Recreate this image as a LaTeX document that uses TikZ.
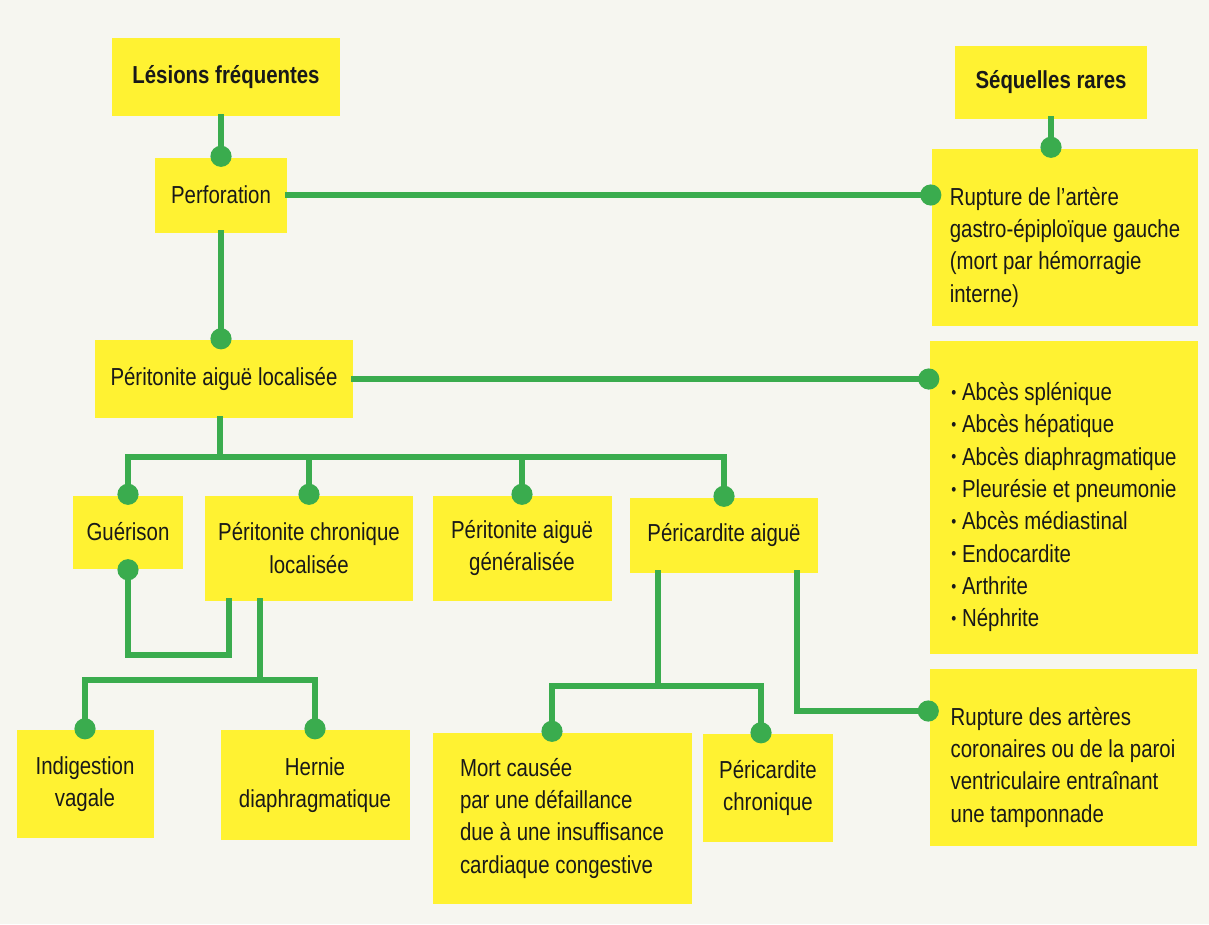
\documentclass[tikz,border=0pt]{standalone}
\usepackage{fontspec}
\setmainfont{Liberation Sans}[FakeStretch=0.83]
\usepackage{graphicx}
\usepackage{xcolor}
\usetikzlibrary{arrows.meta}

\definecolor{boxyellow}{RGB}{255,242,50}
\definecolor{linkgreen}{RGB}{58,172,78}
\definecolor{paper}{RGB}{246,246,240}
\newcommand{\puce}{\raisebox{0.2ex}{\scalebox{0.7}{•}}\ }
\newcommand{\lowtop}{\rule{0pt}{22pt}}

\begin{document}
\begin{tikzpicture}[x=0.02cm, y=-0.02cm,
    every node/.style={font=\fontsize{14pt}{18.4pt}\selectfont, text=black!90},
    box/.style 2 args={rectangle, fill=boxyellow, inner sep=0pt, align=center,
        minimum width={#1*0.02cm}, minimum height={#2*0.02cm}},
    link/.style={draw=linkgreen, line width=3.1pt, line cap=rect},
    dotend/.style={-{Circle[length=12pt]}, shorten >=-5.5pt}]
    \useasboundingbox (0,0) rectangle (1209,924);
    \fill[paper] (0,0) rectangle (1209,924);

    \node[box={228}{78}] (lesions) at (226,77) {\bfseries Lésions fréquentes};
    \node[box={192}{73}] (sequelles) at (1051,82) {\bfseries Séquelles rares};
    \node[box={132}{75}] (perf) at (221,195) {Perforation};
    \node[box={266}{177}, align=left] (rupgastro) at (1065,237) {\lowtop Rupture de l'artère\\gastro-épiploïque gauche\\(mort par hémorragie\\interne)};
    \node[box={258}{78}] (pal) at (224,379) {Péritonite aiguë localisée};
    \node[box={268}{313}, align=left] (abces) at (1064,497) {\lowtop\puce Abcès splénique\\\puce Abcès hépatique\\\puce Abcès diaphragmatique\\\puce Pleurésie et pneumonie\\\puce Abcès médiastinal\\\puce Endocardite\\\puce Arthrite\\\puce Néphrite};
    \node[box={110}{73}] (guer) at (128,532) {Guérison};
    \node[box={208}{105}] (pcl) at (309,548) {Péritonite chronique\\localisée};
    \node[box={179}{105}] (pag) at (522,548) {Péritonite aiguë\\généralisée};
    \node[box={188}{75}] (pca) at (724,535) {Péricardite aiguë};
    \node[box={267}{177}, align=left] (rupcoro) at (1063,757) {\lowtop Rupture des artères\\coronaires ou de la paroi\\ventriculaire entraînant\\une tamponnade};
    \node[box={137}{108}] (indig) at (85,784) {Indigestion\\vagale};
    \node[box={189}{110}] (hernie) at (315,785) {Hernie\\diaphragmatique};
    \node[box={259}{171}, align=left] (mort) at (562,818) {Mort causée\\par une défaillance\\due à une insuffisance\\cardiaque congestive};
    \node[box={130}{108}] (pcc) at (768,788) {Péricardite\\chronique};

    \draw[link, dotend] (lesions.south -| perf) -- (perf.north);
    \draw[link, dotend] (perf.east) -- (perf.east -| rupgastro.west);
    \draw[link, dotend] (sequelles.south) -- (sequelles.south |- rupgastro.north);
    \draw[link, dotend] (perf.south) -- (pal.north -| perf);
    \draw[link, dotend] (pal.east) -- (pal.east -| abces.west);

    \coordinate (busa) at (220,457);
    \draw[link] (pal.south -| busa) -- (busa);
    \draw[link] (guer.north |- busa) -- (pca.north |- busa);
    \foreach \n in {guer,pcl,pag,pca}
        \draw[link, dotend] (\n.north |- busa) -- (\n.north);

    \coordinate (loopa) at (229,655);
    \draw[link, dotend] (pcl.south -| loopa) -- (loopa) -| (guer.south);

    \coordinate (busb) at (260,680);
    \draw[link] (pcl.south -| busb) -- (busb);
    \draw[link] (indig.north |- busb) -- (hernie.north |- busb);
    \foreach \n in {indig,hernie}
        \draw[link, dotend] (\n.north |- busb) -- (\n.north);

    \coordinate (busc) at (658,686);
    \coordinate (mortin) at ([xshift=-2mm]mort.north);
    \coordinate (pccin) at ([xshift=-1.4mm]pcc.north);
    \draw[link] (pca.south -| busc) -- (busc);
    \draw[link] (mortin |- busc) -- (pccin |- busc);
    \foreach \n in {mortin,pccin}
        \draw[link, dotend] (\n |- busc) -- (\n);

    \coordinate (bendb) at (797,711);
    \draw[link, dotend] (pca.south -| bendb) -- (bendb) -- (bendb -| rupcoro.west);
\end{tikzpicture}
\end{document}
